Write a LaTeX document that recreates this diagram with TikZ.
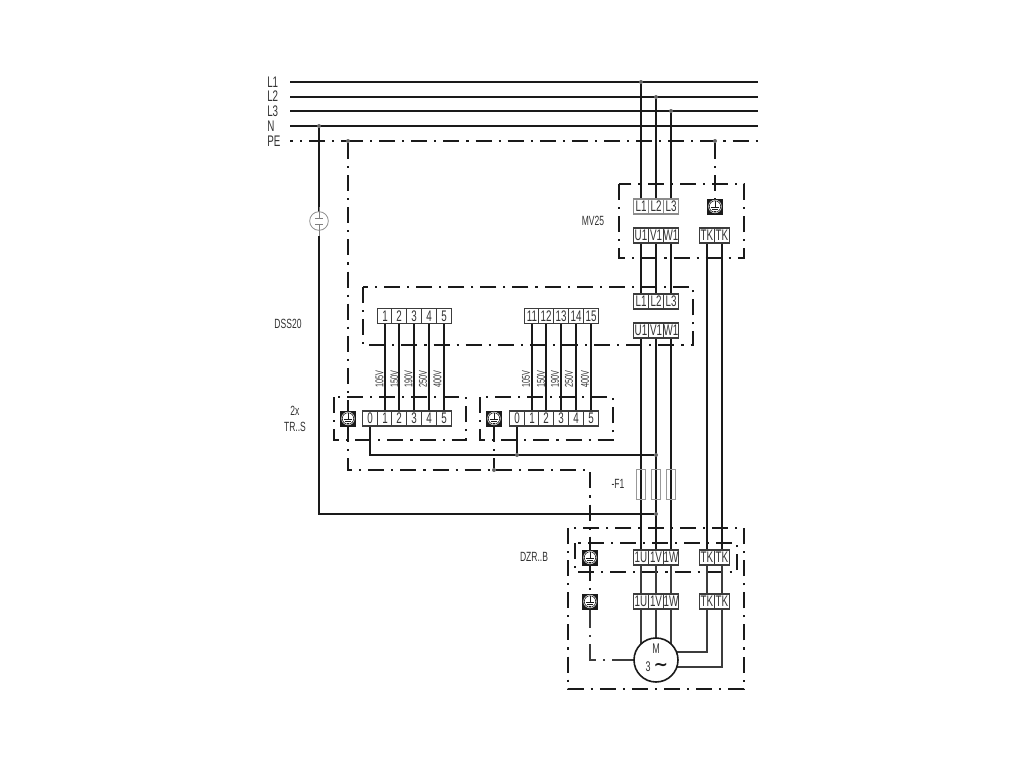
\documentclass[tikz,border=0pt]{standalone}
\usepackage{fontspec}
\setmainfont{Liberation Sans}
\newfontfamily\nf[FakeStretch=0.64]{Liberation Sans}
\newfontfamily\symf{DejaVu Sans Bold}
\pgfdeclarelayer{back}
\pgfsetlayers{back,main}
\definecolor{ink}{HTML}{1A1A1A}
\definecolor{txt}{HTML}{333333}
\tikzset{
  termbox/.style={draw=ink!85,fill=white,line width=0.8pt,minimum width=11.25pt,minimum height=11.25pt,inner sep=0pt,outer sep=0pt,font=\fontsize{11.5}{11.5}\selectfont\nf,text=txt},
  graybox/.style={termbox,draw=black!45},
  gndbox/.style={draw=ink,fill=ink,line width=0.5pt,minimum width=11pt,minimum height=11.25pt,inner sep=0pt,outer sep=0pt},
  fusebox/.style={draw=black!40,line width=0.7pt,minimum width=7pt,minimum height=22.5pt,inner sep=0pt,outer sep=0pt},
  wire/.style={line width=1.8pt,color=ink},
  thinwire/.style={line width=1.1pt,color=ink!85},
  pedash/.style={line width=1.8pt,color=ink,dash pattern=on 12pt off 5.25pt on 1.6pt off 5.25pt},
  boxdash/.style={line width=0.8pt,color=ink,dash pattern=on 12pt off 5.25pt on 1.6pt off 5.25pt},
  lab/.style={font=\fontsize{10}{12}\selectfont\nf,text=txt,inner sep=0pt,align=center},
  buslab/.style={font=\fontsize{11.5}{11.5}\selectfont\nf,text=txt,inner sep=0pt,anchor=west},
  volt/.style={font=\fontsize{8.5}{8.5}\selectfont\nf,text=txt,inner sep=0pt,rotate=90},
  tapdot/.style={fill=black!60,circle,inner sep=0pt,minimum size=3pt,outer sep=0pt}
}
\newcommand{\gnd}[2]{%
  \node[gndbox] (#1) at (#2) {};
  \begin{scope}[shift={(#2)}]
    \fill[white] (0,0) circle (5pt);
    \draw[ink,line width=0.45pt] (0,0) circle (4.3pt);
    \draw[ink,line width=0.55pt] (0,-5.7) -- (0,0.5) (-4,0.5) -- (4,0.5) (-2.6,2.6) -- (2.6,2.6) (-1.2,4.7) -- (1.2,4.7);
  \end{scope}}
\newcommand{\tap}[2]{\node[tapdot] (#1) at (#2) {};}
\begin{document}
\begin{tikzpicture}[x=0.75pt,y=-0.75pt]
\useasboundingbox (0,0) rectangle (1024,768);
\begin{pgfonlayer}{back}
\fill[white] (0,0) rectangle (1024,768);
\end{pgfonlayer}

% bus coordinates
\coordinate (b1a) at (290,82);   \coordinate (b1b) at (758,82);
\coordinate (b2a) at (290,97);   \coordinate (b2b) at (758,97);
\coordinate (b3a) at (290,111);  \coordinate (b3b) at (758,111);
\coordinate (bNa) at (290,126);  \coordinate (bNb) at (758,126);
\coordinate (bPa) at (290,141);  \coordinate (bPm) at (348,141); \coordinate (bPb) at (758,141);

% bus labels
\node[buslab] (tL1) at (267,82) {L1};
\node[buslab] (tL2) at (267,96.5) {L2};
\node[buslab] (tL3) at (267,111) {L3};
\node[buslab] (tN) at (267,126) {N};
\node[buslab] (tPE) at (267,141) {PE};

% taps
\tap{t1}{641,82}
\tap{t2}{656,97}
\tap{t3}{671,111}
\tap{tn}{319,126}
\tap{tpe1}{348,141}
\tap{tpe2}{715,141}
\tap{tf1}{656,455}
\tap{tf2}{517,455}
\tap{tn2}{656,514}
\tap{tpe3}{494,470}

% surge arrester
\node[draw=black!45,fill=white,circle,line width=0.6pt,minimum size=14pt,inner sep=0pt,outer sep=0pt] (surge) at (319,221) {};
\draw[black!50,line width=0.6pt] (319,207) -- (319,218) (315,218) -- (323,218) (315,224) -- (323,224) (319,224) -- (319,236);

% MV25 terminals
\node[graybox] (ml1) at (641,206.5) {L1};
\node[graybox] (ml2) at (656,206.5) {L2};
\node[graybox] (ml3) at (671,206.5) {L3};
\gnd{mg}{715,206.5}
\node[termbox] (mu1) at (641,235.5) {U1};
\node[termbox] (mv1) at (656,235.5) {V1};
\node[termbox] (mw1) at (671,235.5) {W1};
\node[termbox] (mt1) at (707,235.5) {TK};
\node[termbox] (mt2) at (722,235.5) {TK};

% DSS20 right terminals
\node[termbox] (dl1) at (641,301.5) {L1};
\node[termbox] (dl2) at (656,301.5) {L2};
\node[termbox] (dl3) at (671,301.5) {L3};
\node[termbox] (du1) at (641,330.5) {U1};
\node[termbox] (dv1) at (656,330.5) {V1};
\node[termbox] (dw1) at (671,330.5) {W1};

% DSS20 tap terminals
\node[termbox] (a1) at (385,316) {1};
\node[termbox] (a2) at (399,316) {2};
\node[termbox] (a3) at (414,316) {3};
\node[termbox] (a4) at (429,316) {4};
\node[termbox] (a5) at (444,316) {5};
\node[termbox] (c1) at (532,316) {11};
\node[termbox] (c2) at (546,316) {12};
\node[termbox] (c3) at (561,316) {13};
\node[termbox] (c4) at (576,316) {14};
\node[termbox] (c5) at (591,316) {15};

% transformer terminals
\gnd{g1}{348,418.5}
\node[termbox] (r0) at (370,418.5) {0};
\node[termbox] (r1) at (385,418.5) {1};
\node[termbox] (r2) at (399,418.5) {2};
\node[termbox] (r3) at (414,418.5) {3};
\node[termbox] (r4) at (429,418.5) {4};
\node[termbox] (r5) at (444,418.5) {5};
\gnd{g2}{494,418.5}
\node[termbox] (s0) at (517,418.5) {0};
\node[termbox] (s1) at (532,418.5) {1};
\node[termbox] (s2) at (546,418.5) {2};
\node[termbox] (s3) at (561,418.5) {3};
\node[termbox] (s4) at (576,418.5) {4};
\node[termbox] (s5) at (591,418.5) {5};

% voltage labels
\node[volt] (v1) at (379.5,379) {105V};
\node[volt] (v2) at (394.5,379) {150V};
\node[volt] (v3) at (408.5,379) {190V};
\node[volt] (v4) at (423,379) {250V};
\node[volt] (v5) at (437.5,379) {400V};
\node[volt] (w1) at (526,379) {105V};
\node[volt] (w2) at (541,379) {150V};
\node[volt] (w3) at (555,379) {190V};
\node[volt] (w4) at (569,379) {250V};
\node[volt] (w5) at (585,379) {400V};

% fuses
\node[fusebox] (f1) at (641,484) {};
\node[fusebox] (f2) at (656,484) {};
\node[fusebox] (f3) at (671,484) {};

% DZR terminals
\gnd{g3}{590,557.5}
\node[termbox] (z1) at (641,557.5) {1U};
\node[termbox] (z2) at (656,557.5) {1V};
\node[termbox] (z3) at (671,557.5) {1W};
\node[termbox] (zt1) at (707,557.5) {TK};
\node[termbox] (zt2) at (722,557.5) {TK};
\gnd{g4}{590,601.5}
\node[termbox] (y1) at (641,601.5) {1U};
\node[termbox] (y2) at (656,601.5) {1V};
\node[termbox] (y3) at (671,601.5) {1W};
\node[termbox] (yt1) at (707,601.5) {TK};
\node[termbox] (yt2) at (722,601.5) {TK};

% motor
\node[draw=ink,fill=white,circle,line width=1.2pt,minimum size=33pt,inner sep=0pt,outer sep=0pt] (motor) at (656,660) {};
\node[lab,font=\fontsize{10.5}{10.5}\selectfont\nf] (mM) at (656,649) {M};
\node[lab,font=\fontsize{10.5}{10.5}\selectfont\nf] (m3) at (648,667) {3};
\node[font=\fontsize{13}{13}\selectfont\symf,text=ink,inner sep=0pt] (mt) at (661,667) {\char"223C};
\coordinate (mk1) at (656,652);
\coordinate (mk2) at (656,667);

% text labels
\node[lab] (tMV) at (593,221) {MV25};
\node[lab] (tDSS) at (288,324) {DSS20};
\node[lab] (tTR) at (295,418.5) {2x\\TR..S};
\node[lab] (tF) at (618,484) {-F1};
\node[lab] (tDZR) at (534,557) {DZR..B};

\begin{pgfonlayer}{back}
% dashed enclosures
\draw[boxdash] (619,184) rectangle (744,258);
\draw[boxdash] (363,287) rectangle (693,345);
\draw[boxdash] (334,397) rectangle (466,440);
\draw[boxdash] (480,397) rectangle (613,440);
\draw[boxdash] (568,528) rectangle (744,689);
\draw[boxdash] (575,543) rectangle (737,572);

% buses
\draw[wire] (b1a) -- (b1b);
\draw[wire] (b2a) -- (b2b);
\draw[wire] (b3a) -- (b3b);
\draw[wire] (bNa) -- (bNb);
\draw[pedash,dash phase=9.75pt] (bPa) -- (bPm);
\draw[pedash,dash phase=0.75pt] (bPm) -- (bPb);

% incoming wires
\draw[wire] (t1) -- (ml1.north);
\draw[wire] (t2) -- (ml2.north);
\draw[wire] (t3) -- (ml3.north);
\draw[pedash] (tpe2) -- (mg.north);
\draw[wire] (mu1) -- (dl1);
\draw[wire] (mv1) -- (dl2);
\draw[wire] (mw1) -- (dl3);
\draw[wire] (mt1) -- (zt1);
\draw[wire] (mt2) -- (zt2);
\draw[wire] (du1) -- (z1);
\draw[wire] (dv1) -- (z2);
\draw[wire] (dw1) -- (z3);

% neutral
\draw[wire] (tn) -- (surge.north);
\draw[wire] (319,236) |- (tn2);

% PE
\draw[pedash] (tpe1) -- (g1.north);
\draw[pedash] (g1.south) |- (tpe3) -| (g3.north);
\draw[pedash] (g2.south) -- (tpe3);
\draw[boxdash] (g3.south) -- (g4.north);
\draw[thinwire,dash pattern=on 16.5pt off 5.25pt on 1.6pt off 5.25pt] (motor.west) -| (g4.south);

% tap wires
\foreach \p/\q in {a1/r1,a2/r2,a3/r3,a4/r4,a5/r5,c1/s1,c2/s2,c3/s3,c4/s4,c5/s5}{
  \draw[wire] (\p) -- (\q);
}
\draw[wire] (r0.south) |- (tf1);
\draw[wire] (s0.south) -- (tf2);

% DZR to motor
\draw[thinwire] (z1) -- (y1);
\draw[thinwire] (z2) -- (y2);
\draw[thinwire] (z3) -- (y3);
\draw[thinwire] (zt1) -- (yt1);
\draw[thinwire] (zt2) -- (yt2);
\draw[thinwire] (y1) -- (y1 |- motor.center);
\draw[thinwire] (y2) -- (motor);
\draw[thinwire] (y3) -- (y3 |- motor.center);
\draw[thinwire] (yt1) |- (mk1);
\draw[thinwire] (yt2) |- (mk2);
\end{pgfonlayer}
\end{tikzpicture}
\end{document}
